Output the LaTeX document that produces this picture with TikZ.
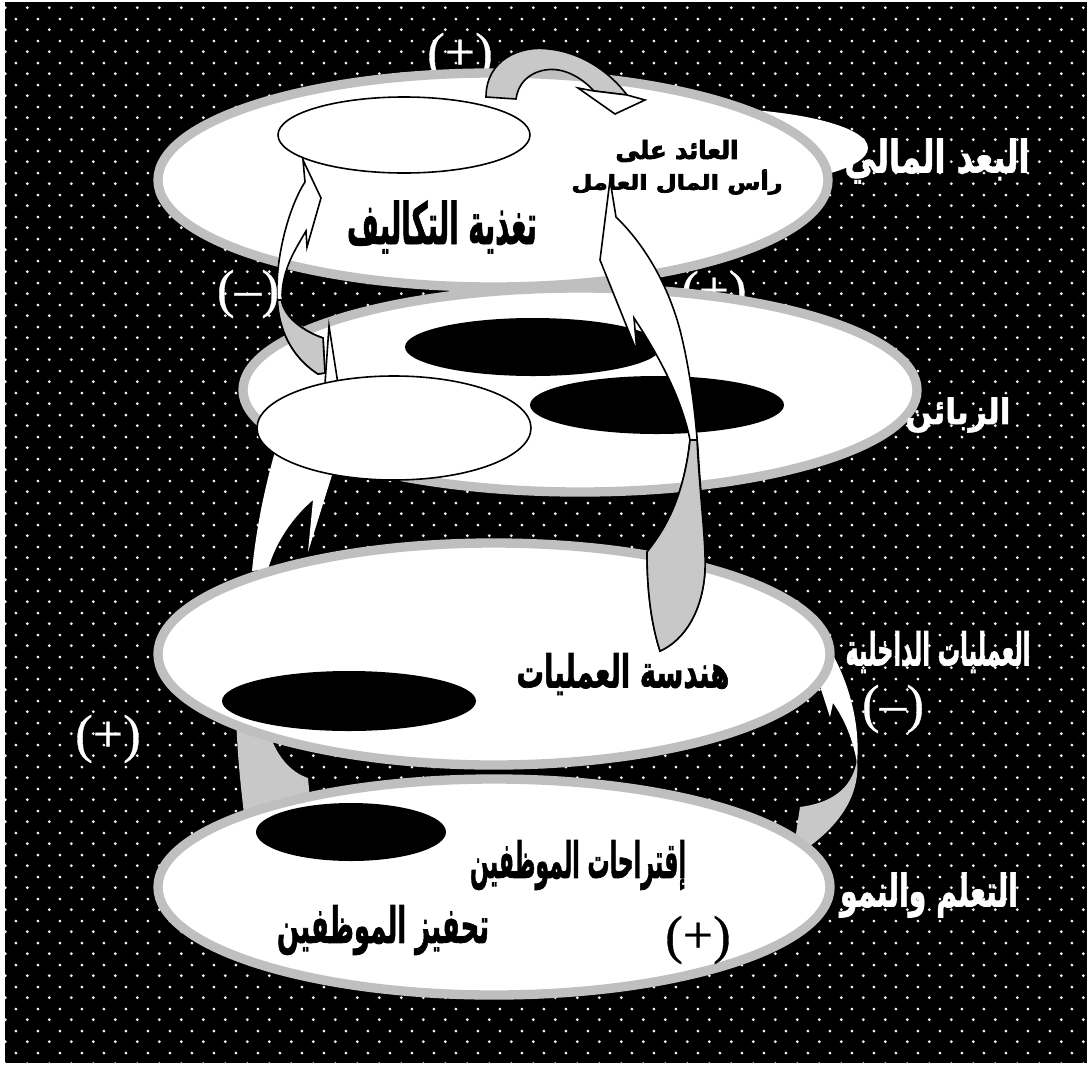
\documentclass[tikz,border=0pt]{standalone}
\usepackage{fontspec}
\usepackage{graphicx}
\usetikzlibrary{patterns}
\TeXXeTstate=1
\newfontfamily\arabicfont[Script=Arabic,BoldFeatures={FakeBold=1.6}]{DejaVu Sans}
\newfontfamily\arabicheavy[Script=Arabic,BoldFeatures={FakeBold=3.5}]{DejaVu Sans}
\newfontfamily\seriffont[FakeBold=0.6]{Liberation Serif}
\newdimen\pxu \pxu=0.75pt
\newcommand\artext[3]{\resizebox*{#1\pxu}{#2\pxu}{\arabicfont\bfseries #3}}
\newcommand\artextheavy[3]{\resizebox*{#1\pxu}{#2\pxu}{\arabicheavy\bfseries #3}}
\definecolor{ringgray}{HTML}{BFBFBF}
\definecolor{arrgray}{HTML}{C8C8C8}
\definecolor{dotc}{HTML}{F2F2F2}
\pgfdeclarepatternformonly{bgdots}{\pgfpointorigin}{\pgfqpoint{16.25pt}{16.25pt}}{\pgfqpoint{16.25pt}{16.25pt}}{%
  \pgfpathcircle{\pgfqpoint{4pt}{4pt}}{1.15pt}%
  \pgfpathcircle{\pgfqpoint{12.125pt}{12.125pt}}{1.15pt}%
  \pgfusepath{fill}%
}
\tikzset{
  layer/.style={fill=white, draw=ringgray, line width=7pt},
  whiteell/.style={fill=white, draw=black, line width=1.2pt},
  arrw/.style={fill=white, draw=black, line width=1.2pt, line join=miter},
  arrg/.style={fill=arrgray, draw=black, line width=1.2pt, line join=miter},
  lbl/.style={inner sep=0pt, anchor=center},
  sign/.style={inner sep=0pt, anchor=center, font=\seriffont\fontsize{40}{40}\selectfont},
}
\begin{document}
\begin{tikzpicture}[x=0.75pt,y=-0.75pt]
\useasboundingbox (0,0) rectangle (1089,1068);
\fill[white] (0,0) rectangle (1089,1068);
\fill[black] (5,2) rectangle (1087,1063);
\fill[pattern=bgdots, pattern color=dotc] (5,2) rectangle (1087,1063);

% bottom connectors (behind layers 3 and 4)
\path[fill=arrgray] (236,712) -- (268,728) .. controls (275,755) and (290,772) .. (308,778) -- (310,800) -- (244,814) .. controls (240,780) and (237,750) .. (236,712) -- cycle;
\path[fill=arrgray] (857,760) .. controls (860,790) and (845,820) .. (810,846) -- (795,840) -- (800,807) .. controls (830,803) and (852,790) .. (857,760) -- cycle;
\path[fill=white] (833,655) .. controls (852,690) and (860,730) .. (857,763) .. controls (853,740) and (845,720) .. (833,703) -- (830,717) -- (818,680) -- cycle;

% signs hidden partly behind layers
\node[sign,text=white] (ptop) at (460,57) {(+)};
\node[sign,text=white] (pmid) at (714,295) {(+)};

% white blob behind the top layer
\fill[white] (700,148) ellipse [x radius=168, y radius=40];

% layer 2
\path[layer] (580,390) ellipse [x radius=337, y radius=102];
\fill[black] (533,347) ellipse [x radius=128, y radius=29];
\fill[black] (657,405) ellipse [x radius=127, y radius=29];
% arrow 3 (layer 3 -> layer 2)
\path[arrw] (329,326) -- (338,384) -- (325,384) -- cycle;
\path[fill=white] (276,448) -- (334,448) -- (332,475) -- (308,552) -- (313,500) .. controls (292,518) and (276,542) .. (268,569) -- (252,571) .. controls (256,530) and (264,490) .. (276,448) -- cycle;
\path[whiteell] (394,428) ellipse [x radius=137, y radius=52];

% layer 3
\path[layer] (494,654) ellipse [x radius=336, y radius=111];
\fill[black] (349,701) ellipse [x radius=127, y radius=30];
\node[lbl] (t5) at (623,674) {\artext{213}{42}{\beginR هندسة العمليات\endR}};

% layer 4
\path[layer] (494,887) ellipse [x radius=336, y radius=108];
\fill[black] (351,832) ellipse [x radius=95, y radius=29];
\node[lbl] (t6) at (578,865) {\artext{216}{50}{\beginR إقتراحات الموظفين\endR}};
\node[lbl] (t7) at (383,930) {\artext{212}{50}{\beginR تحفيز الموظفين\endR}};
\node[sign,text=black] (pbot) at (698,940) {(+)};

% layer 1
\path[layer] (493,180) ellipse [x radius=335, y radius=107];
\path[whiteell] (404,135) ellipse [x radius=126, y radius=38];
\node[lbl] (t1) at (677,151) {\artextheavy{123}{22}{\beginR العائد على\endR}};
\node[lbl] (t2) at (677,182) {\artextheavy{211}{25}{\beginR رأس المال العامل\endR}};
\node[lbl] (t3) at (442,227) {\artext{190}{53}{\beginR تغذية التكاليف\endR}};

% arrow 2 (layer 2 -> layer 1)
\path[arrw] (303,160) -- (321,198) -- (307,247) -- (306,231) .. controls (295,250) and (283,268) .. (282,295) .. controls (284,318) and (305,332) .. (323,338) -- (325,373) -- (318,374) .. controls (296,360) and (279,335) .. (277,300) .. controls (275,255) and (290,205) .. (305,182) -- cycle;
\path[arrg] (281.5,300) .. controls (284,318) and (305,332) .. (323,338) -- (325,373) -- (318,374) .. controls (296,360) and (279,335) .. (277.5,300) -- cycle;

% arrow 1 (top curved arrow)
\path[arrg] (486,97) .. controls (486,60) and (520,45) .. (549,49) .. controls (585,53) and (612,75) .. (627,95) -- (594,91) .. controls (580,76) and (562,67) .. (545,70) .. controls (528,73) and (518,84) .. (516,99) -- cycle;
\path[arrw] (627,95) -- (645,100) -- (615,114) -- (578,88) -- (594,91) -- cycle;

% arrow 4 (layer 3 -> layer 1)
\path[arrw] (610,180) -- (616,217) .. controls (645,245) and (668,285) .. (680,330) .. controls (690,370) and (695,410) .. (698,450) .. controls (701,500) and (706,540) .. (705,570) .. controls (703,610) and (685,640) .. (660,651) .. controls (650,620) and (647,585) .. (647,552) .. controls (660,535) and (683,505) .. (690,440) .. controls (683,405) and (665,365) .. (634,318) -- (637,352) -- (600,260) -- cycle;
\path[arrg] (697,440) .. controls (700,500) and (706,540) .. (705,570) .. controls (703,610) and (685,640) .. (660,651) .. controls (650,620) and (647,585) .. (647,552) .. controls (660,535) and (683,505) .. (690,440) -- cycle;

% side labels
\node[lbl,text=white] (l1) at (937,161) {\artext{185}{45}{\beginR البعد المالي\endR}};
\node[lbl,text=white] (l2) at (958,415) {\artext{105}{35}{\beginR الزبائن\endR}};
\node[lbl,text=white] (l3) at (938,652) {\artext{185}{42}{\beginR العمليات الداخلية\endR}};
\node[lbl,text=white] (l4) at (929,895) {\artext{178}{45}{\beginR التعلم والنمو\endR}};

% signs
\node[sign,text=white] (mleft) at (248,294) {(–)};
\node[sign,text=white] (pleft) at (108,739) {(+)};
\node[sign,text=white] (mright) at (893,709) {(–)};
\end{tikzpicture}
\end{document}
